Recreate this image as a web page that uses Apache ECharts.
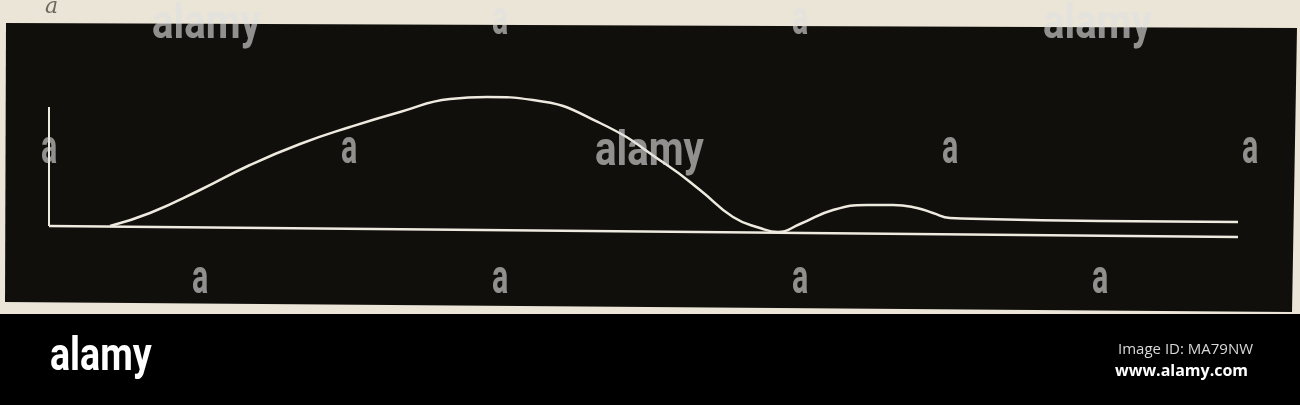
<!DOCTYPE html>
<html>
<head>
<meta charset="utf-8">
<script src="https://cdn.jsdelivr.net/npm/echarts@6/dist/echarts.min.js"></script>
<style>
html,body{margin:0;padding:0;background:#ebe5d7;}
#chart{width:1300px;height:405px;}
</style>
</head>
<body>
<div id="chart"></div>
<script>
// Trace data (x: time units from the ordinate, y: deflection units)
var curveX = [61, 101, 151, 201, 251, 301, 351, 401, 438, 484, 551, 618, 651, 684, 711, 729, 751, 784, 818, 844, 868, 884, 901, 934, 1051, 1189];
var curveY = [14, 27, 50, 75, 96, 113, 128, 141, 143, 140, 117, 75, 50, 23, 12, 8, 16, 30, 35, 35, 32, 27, 22, 21, 19, 18];
var baselineX = [0, 1189];
var baselineY = [14, 3];
var ordinateX = [0, 0];
var ordinateY = [14, 133];
var figureLabel = "a";

function pairs(xs, ys){ return xs.map(function(x,i){ return [x, ys[i]]; }); }

var chart = echarts.init(document.getElementById('chart'), null, {renderer:'canvas'});

function wm(text, x, y, size, sx, fill){
  return {type:'text', z:100, x:x, y:y, scaleX:sx, scaleY:1,
    style:{x:0, y:0, text:text, fill:fill||'rgba(225,225,225,0.62)',
      font:'bold ' + size + 'px Roboto, "Liberation Sans", sans-serif', verticalAlign:'top', align:'left'}};
}
var smallA = [[41,126],[341,126],[492,-3],[792,-3],[942,126],[1242,126],[192,256],[492,256],[792,256],[1092,256]];

var graphics = [
  {type:'polygon', z:-10, shape:{points:[[6,23],[1297,28],[1292,312],[5,302]]}, style:{fill:'#110f0c'}},
  {type:'rect', z:-9, shape:{x:0,y:314,width:1300,height:91}, style:{fill:'#000000'}},
  {type:'text', z:5, x:45, y:-4, style:{x:0, y:0, text:figureLabel, fill:'#6d685f', font:'italic 22px "DejaVu Serif", serif', verticalAlign:'top'}},
  wm('alamy', 152, 1, 49, 0.82),
  wm('alamy', 1043, 1, 49, 0.82),
  wm('alamy', 595, 128, 49, 0.82),
  wm('alamy', 50, 335, 47, 0.8, '#ffffff'),
  {type:'text', z:100, x:1118, y:342, style:{x:0, y:0, text:'Image ID: MA79NW', fill:'#d8d8d8', font:'15px "Open Sans", "Noto Sans", sans-serif', verticalAlign:'top'}},
  {type:'text', z:100, x:1115, y:363, style:{x:0, y:0, text:'www.alamy.com', fill:'#ffffff', font:'bold 16px "Open Sans", "Noto Sans", sans-serif', verticalAlign:'top'}}
];
smallA.forEach(function(p){ graphics.push(wm('a', p[0], p[1], 49, 0.62)); });

var lineColor = '#efeadf';
chart.setOption({
  backgroundColor:'#ebe5d7',
  animation:false,
  grid:{left:49, top:90, width:1189, height:150},
  xAxis:{type:'value', min:0, max:1189, show:false},
  yAxis:{type:'value', min:0, max:150, show:false},
  graphic: graphics,
  series:[
    {type:'line', data:pairs(ordinateX, ordinateY), symbol:'none', lineStyle:{color:lineColor, width:2}},
    {type:'line', data:pairs(baselineX, baselineY), symbol:'none', lineStyle:{color:lineColor, width:2.5}},
    {type:'line', data:pairs(curveX, curveY), symbol:'none', smooth:0.5, lineStyle:{color:lineColor, width:2.5}}
  ]
});
</script>
</body>
</html>
